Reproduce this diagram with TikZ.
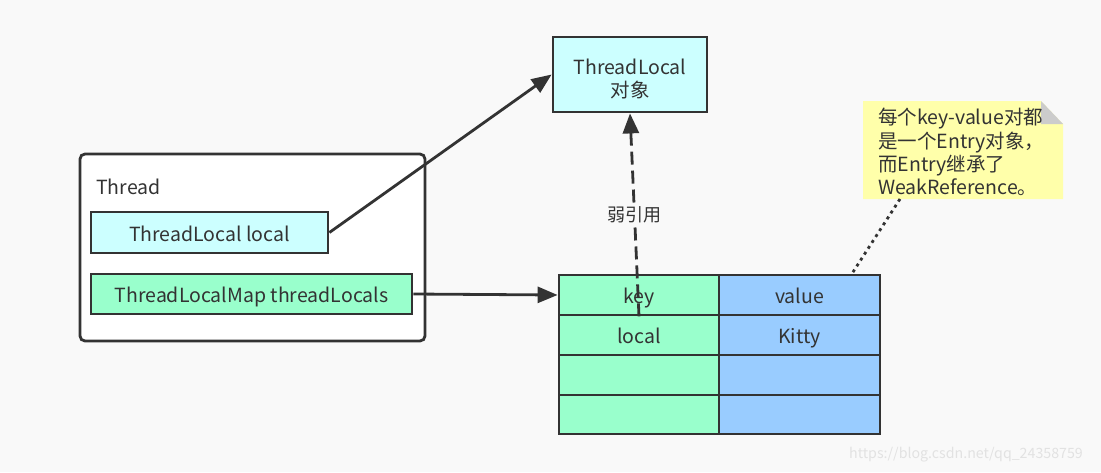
\documentclass[tikz,border=0pt]{standalone}
\usepackage{fontspec}
\setmainfont{Noto Sans CJK SC}
\usetikzlibrary{arrows.meta,calc}
\definecolor{bgc}{HTML}{F9F9F9}
\definecolor{edge}{HTML}{333333}
\definecolor{cyanf}{HTML}{CCFFFF}
\definecolor{greenf}{HTML}{99FFCC}
\definecolor{bluef}{HTML}{99CCFF}
\definecolor{notef}{HTML}{FFFFAA}
\definecolor{foldc}{HTML}{CCCCCC}
\definecolor{wmark}{HTML}{E2E2E2}
\tikzset{
  txt/.style={font=\fontsize{19.5}{22}\selectfont, text=edge},
  box/.style={draw=edge, line width=2.8pt, inner sep=0pt, txt},
  one/.style={text height=17pt, text depth=0pt},
  cell/.style={box, one, minimum height=40pt},
  conn/.style={draw=edge, line width=2.8pt, -{Triangle[length=20pt,width=16pt]}},
}
\begin{document}
\begin{tikzpicture}[x=1pt,y=-1pt]
\fill[bgc] (0,0) rectangle (1101,472);
\useasboundingbox (0,0) rectangle (1101,472);
% ThreadLocal object
\node[box, fill=cyanf, minimum width=154pt, minimum height=75pt] (tlobj) at (630,74.5) {};
\node[txt, inner sep=0pt, one] (tlobjA) at (630,66) {ThreadLocal};
\node[txt, inner sep=0pt, one] (tlobjB) at (630,89) {对象};
% Thread container
\node[box, fill=white, rounded corners=5pt, minimum width=345pt, minimum height=187pt] (thread) at (252.5,247.5) {};
\node[anchor=west, txt, one, inner sep=0pt] (threadlbl) at (96,186) {Thread};
\node[box, one, fill=cyanf, minimum width=237pt, minimum height=41pt] (local) at (209.5,232.5) {ThreadLocal local};
\node[box, one, fill=greenf, minimum width=321pt, minimum height=40pt] (map) at (251.5,294) {ThreadLocalMap threadLocals};
% table
\node[cell, fill=greenf, minimum width=160pt] (key) at (639,295) {key};
\node[cell, fill=bluef, minimum width=161pt] (value) at (799.5,295) {value};
\node[cell, fill=greenf, minimum width=160pt] (k1) at (639,335) {local};
\node[cell, fill=bluef, minimum width=161pt] (v1) at (799.5,335) {Kitty};
\node[cell, fill=greenf, minimum width=160pt] (k2) at (639,375) {};
\node[cell, fill=bluef, minimum width=161pt] (v2) at (799.5,375) {};
\node[cell, fill=greenf, minimum width=160pt, minimum height=39pt] (k3) at (639,414.5) {};
\node[cell, fill=bluef, minimum width=161pt, minimum height=39pt] (v3) at (799.5,414.5) {};
% note
\fill[notef] (863,101) -- (1041,101) -- (1063,124) -- (1063,199) -- (863,199) -- cycle;
\fill[foldc] (1041,101) -- (1063,124) -- (1041,124) -- cycle;
\node[anchor=north west, align=left, inner sep=0pt, font=\fontsize{19.5}{23.3}\selectfont, text=edge] (note) at (878,108)
  {每个key-value对都\\是一个Entry对象，\\而Entry继承了\\WeakReference。};
\coordinate (notebot) at (900,199);
\coordinate (tabletop) at ($(value.north)+(52.5,0)$);
% connectors
\draw[conn] (local.east) -- (tlobj.west);
\draw[conn] (map.east) -- (key.west);
\draw[conn, dash pattern=on 13pt off 6pt] (key.south) -- (tlobj.south)
  node[pos=0.5, fill=bgc, inner sep=1.5pt, font=\fontsize{18}{20}\selectfont, text=edge] (weak) {弱引用};
\draw[edge, line width=2.8pt, dash pattern=on 3pt off 4pt] (notebot) -- (tabletop);
% watermark
\node[anchor=west, inner sep=0pt, text=wmark, font=\fontsize{14.2}{16}\selectfont] (wm) at (849,455) {https://blog.csdn.net/qq\_24358759};
\end{tikzpicture}
\end{document}
